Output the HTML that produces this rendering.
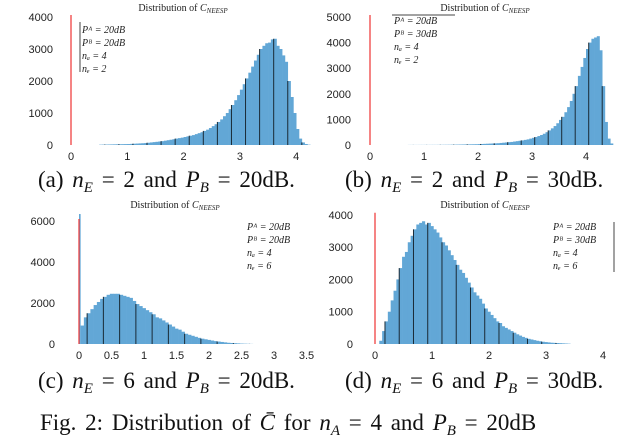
<!DOCTYPE html>
<html><head><meta charset="utf-8"><style>
body{margin:0;background:#fff;width:640px;height:421px;overflow:hidden;position:relative;font-family:"Liberation Sans",sans-serif}
svg{position:absolute;left:0;top:0}
.cap{position:absolute;font-family:"Liberation Serif",serif;font-size:23px;color:#111;white-space:nowrap;word-spacing:3px}
.cap sub{font-size:15px;vertical-align:-5px;line-height:0}
</style></head><body>
<svg id="s" width="640" height="421"></svg>
<div class="cap" style="left:38px;top:167px">(a) <i>n<sub>E</sub></i> = 2 and <i>P<sub>B</sub></i> = 20dB.</div>
<div class="cap" style="left:345px;top:167px">(b) <i>n<sub>E</sub></i> = 2 and <i>P<sub>B</sub></i> = 30dB.</div>
<div class="cap" style="left:38px;top:368px">(c) <i>n<sub>E</sub></i> = 6 and <i>P<sub>B</sub></i> = 20dB.</div>
<div class="cap" style="left:345px;top:368px">(d) <i>n<sub>E</sub></i> = 6 and <i>P<sub>B</sub></i> = 30dB.</div>
<div class="cap" style="left:40px;top:410px">Fig. 2: Distribution of <i>C̄</i> for <i>n<sub>A</sub></i> = 4 and <i>P<sub>B</sub></i> = 20dB</div>
<script>
const aStart=0.5, aBin=0.05;
const aCounts=[10,12,14,16,18,20,22,24,26,28,30,35,40,45,50,55,60,70,80,90,100,110,120,135,150,165,180,200,215,230,250,270,290,310,340,370,400,440,480,530,590,650,720,800,900,1000,1120,1250,1400,1560,1730,1900,2080,2260,2450,2640,2820,3000,3100,3180,3200,3300,3320,3100,3000,2800,2600,2000,1500,1000,500,200,80,30,10];
const bStart=0.7, bBin=0.05;
const bCounts=[3,3,3,3,4,4,4,4,5,5,5,6,7,8,9,10,12,14,16,18,20,22,24,26,28,30,35,40,45,50,55,60,65,70,80,90,100,110,120,135,150,165,180,200,220,250,280,310,350,390,440,500,570,650,740,850,980,1100,1280,1480,1720,2000,2300,2700,3050,3400,3750,4000,4150,4200,4250,3700,2300,900,250,60];
const cStart=0.025, cBin=0.05;
const cCounts=[900,1300,1500,1700,1900,2050,2200,2300,2400,2450,2450,2450,2400,2350,2300,2250,2100,1950,1850,1750,1650,1550,1450,1300,1250,1150,1050,950,850,750,700,600,500,450,400,350,300,260,230,200,170,140,120,100,80,60,50,40,30,20,15,10,5];
const cSpike=6340;
const dStart=0.075, dBin=0.05;
const dCounts=[100,400,700,1000,1350,1650,2000,2350,2700,2850,3150,3350,3550,3700,3750,3800,3700,3750,3650,3550,3450,3300,3150,3050,2900,2750,2600,2450,2300,2200,2050,1900,1750,1600,1500,1400,1250,1100,1000,900,800,700,650,550,500,450,400,350,300,260,220,190,160,140,120,100,85,70,60,50,40,35,30,25,20,15,10];
const aXTicks=[0,1,2,3,4], aYTicks=[0,1000,2000,3000,4000];
const bXTicks=[0,1,2,3,4], bYTicks=[0,1000,2000,3000,4000,5000];
const cXTicks=["0","0.5","1","1.5","2","2.5","3","3.5"], cYTicks=[0,2000,4000,6000];
const dXTicks=[0,1,2,3,4], dYTicks=[0,1000,2000,3000,4000];

const NS="http://www.w3.org/2000/svg", svg=document.getElementById('s');
function el(t,a,p){const e=document.createElementNS(NS,t);for(const k in a)e.setAttribute(k,a[k]);(p||svg).appendChild(e);return e;}
function panel(id,x0,xPer,y0,yPer,start,bin,counts,xt,yt,ylx,tx,ty,legend,spike){
  const g=el('g',{});
  
  
  const X=v=>x0+v*xPer, Y=v=>y0-v*yPer;
  counts.forEach((c,i)=>{
    const r=el('rect',{x:X(start+i*bin),y:Y(c),width:bin*xPer+0.3,height:c*yPer,fill:'#62a7d6'},g);
    
    
    if(i%5===2){const l=el('line',{x1:X(start+i*bin),x2:X(start+i*bin),y1:Y(c),y2:y0,stroke:'#1a2a35','stroke-width':1},g);
      
      }
  });
  if(spike){const r=el('rect',{x:X(0),y:Y(spike),width:0.025*xPer,height:spike*yPer,fill:'#62a7d6'},g);
    
    }
  const top=Y(yt[yt.length-1])-2;
  const red=el('line',{x1:X(0),x2:X(0),y1:top,y2:y0,stroke:'#e33',"stroke-width":1.2},g);
  
  
  xt.forEach(v=>{const t=el('text',{x:X(+v),y:y0+15,'font-size':11,'text-anchor':'middle',fill:'#222'},g);t.textContent=v;
    
    });
  yt.forEach(v=>{const t=el('text',{x:ylx,y:Y(v)+4,'font-size':11,'text-anchor':'end',fill:'#222'},g);t.textContent=v;
    
    });
  const tt=el('text',{x:tx,y:ty,'font-size':10,'text-anchor':'middle','font-family':'Liberation Serif, serif',fill:'#222'},g);
  tt.innerHTML='Distribution of <tspan font-style="italic">C</tspan><tspan font-style="italic" font-size="7" dy="2">NEESP</tspan>';
  
  
  legend.lines.forEach((s,i)=>{const t=el('text',{x:legend.x,y:legend.y+i*13,'font-size':10,'font-style':'italic','font-family':'Liberation Serif, serif',fill:'#222'},g);t.textContent=s;
    
    });
}
function leg(pb,ne){return ["P\u1d2c = 20dB","P\u1d2e = "+pb+"dB","n\u2090 = 4","n\u2091 = "+ne];}
panel('a',71,56.3,145,0.032,aStart,aBin,aCounts,aXTicks,aYTicks,53,183,11,{x:82,y:33,lines:leg(20,2)});
el('line',{x1:80,x2:80,y1:22,y2:72,stroke:'#444'});
panel('b',370,54,145,0.0256,bStart,bBin,bCounts,bXTicks,bYTicks,351,485,11,{x:394,y:24,lines:leg(30,2)});
el('line',{x1:392,x2:455,y1:15,y2:15,stroke:'#444'});
panel('c',79,65,344,0.0205,cStart,cBin,cCounts,cXTicks,cYTicks,55,175,208,{x:247,y:230,lines:leg(20,6)},cSpike);
panel('d',375,57,344,0.0323,dStart,dBin,dCounts,dXTicks,dYTicks,353,485,208,{x:553,y:230,lines:leg(30,6)});
el('line',{x1:614,x2:614,y1:222,y2:272,stroke:'#444'});
</script>
</body></html>
